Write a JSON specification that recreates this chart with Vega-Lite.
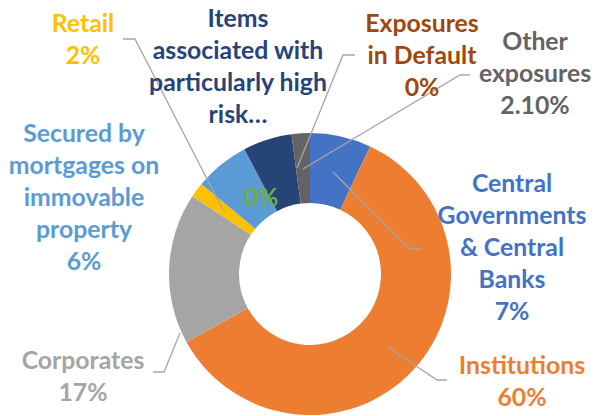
{
  "$schema": "https://vega.github.io/schema/vega-lite/v6.json",
  "width": 570,
  "height": 284,
  "autosize": {"type": "none"},
  "padding": {"left": 25, "top": 132, "right": 0, "bottom": 0},
  "background": "white",
  "config": {
    "view": {"stroke": null},
    "text": {"font": "Lato", "fontWeight": "bold", "fontSize": 24.8, "lineHeight": 32, "align": "center", "baseline": "middle", "lineBreak": "\n"}
  },
  "data": {
    "values": [
      {"category": "Central Governments & Central Banks", "share": 7, "label": "Central\nGovernments\n& Central\nBanks\n7%"},
      {"category": "Institutions", "share": 60, "label": "Institutions\n60%"},
      {"category": "Corporates", "share": 17.3, "label": "Corporates\n17%"},
      {"category": "Retail", "share": 1.7, "label": "Retail\n2%"},
      {"category": "Secured by mortgages on immovable property", "share": 6.3, "label": "Secured by\nmortgages on\nimmovable\nproperty\n6%"},
      {"category": "Unlabelled category", "share": 0, "label": "0%"},
      {"category": "Items associated with particularly high risk", "share": 5.6, "label": "Items\nassociated with\nparticularly high\nrisk…"},
      {"category": "Exposures in Default", "share": 0, "label": "Exposures\nin Default\n0%"},
      {"category": "Other exposures", "share": 2.1, "label": "Other\nexposures\n2.10%"}
    ]
  },
  "transform": [{"window": [{"op": "row_number", "as": "rank"}]}],
  "layer": [
    {
      "mark": {"type": "arc", "outerRadius": 141, "innerRadius": 71},
      "encoding": {
        "theta": {"field": "share", "type": "quantitative", "stack": true},
        "order": {"field": "rank", "type": "quantitative"},
        "color": {
          "field": "category",
          "type": "nominal",
          "legend": null,
          "scale": {
            "domain": ["Central Governments & Central Banks", "Institutions", "Corporates", "Retail", "Secured by mortgages on immovable property", "Unlabelled category", "Items associated with particularly high risk", "Exposures in Default", "Other exposures"],
            "range": ["#4472C4", "#ED7D31", "#A5A5A5", "#FFC000", "#5B9BD5", "#70AD47", "#264478", "#9E480E", "#636363"]
          }
        }
      }
    },
    {
      "mark": {"type": "point", "filled": false, "size": 4, "opacity": 1, "color": "#A6A6A6", "strokeWidth": 1.3},
      "encoding": {
        "shape": {
          "field": "category",
          "type": "nominal",
          "legend": null,
          "scale": {
            "domain": ["Central Governments & Central Banks", "Institutions", "Corporates", "Retail", "Secured by mortgages on immovable property", "Unlabelled category", "Items associated with particularly high risk", "Exposures in Default", "Other exposures"],
            "range": ["M23,-102L100,-25L112,-25", "M78,73L127,106L137,106", "M-130,59L-146,98L-157,98", "M-87,-64L-175,-235L-187,-235", "M0,0", "M0,0", "M0,0", "M-13,-106L33,-219L45,-219", "M-7,-105L150,-199L160,-199"]
          }
        }
      }
    },
    {"transform": [{"filter": "datum.category === 'Central Governments & Central Banks'"}], "mark": {"type": "text", "color": "#4472C4", "dx": 202, "dy": -89}, "encoding": {"text": {"field": "label"}}},
    {"transform": [{"filter": "datum.category === 'Institutions'"}], "mark": {"type": "text", "color": "#ED7D31", "dx": 212, "dy": 93}, "encoding": {"text": {"field": "label"}}},
    {"transform": [{"filter": "datum.category === 'Corporates'"}], "mark": {"type": "text", "color": "#A5A5A5", "dx": -227, "dy": 88}, "encoding": {"text": {"field": "label"}}},
    {"transform": [{"filter": "datum.category === 'Retail'"}], "mark": {"type": "text", "color": "#FFC000", "dx": -227, "dy": -249}, "encoding": {"text": {"field": "label"}}},
    {"transform": [{"filter": "datum.category === 'Secured by mortgages on immovable property'"}], "mark": {"type": "text", "color": "#5B9BD5", "dx": -226, "dy": -139}, "encoding": {"text": {"field": "label"}}},
    {"transform": [{"filter": "datum.category === 'Unlabelled category'"}], "mark": {"type": "text", "color": "#70AD47", "dx": -49, "dy": -75}, "encoding": {"text": {"field": "label"}}},
    {"transform": [{"filter": "datum.category === 'Items associated with particularly high risk'"}], "mark": {"type": "text", "color": "#264478", "dx": -72, "dy": -254}, "encoding": {"text": {"field": "label"}}},
    {"transform": [{"filter": "datum.category === 'Exposures in Default'"}], "mark": {"type": "text", "color": "#9E480E", "dx": 112, "dy": -249}, "encoding": {"text": {"field": "label"}}},
    {"transform": [{"filter": "datum.category === 'Other exposures'"}], "mark": {"type": "text", "color": "#636363", "dx": 225, "dy": -231}, "encoding": {"text": {"field": "label"}}}
  ]
}
